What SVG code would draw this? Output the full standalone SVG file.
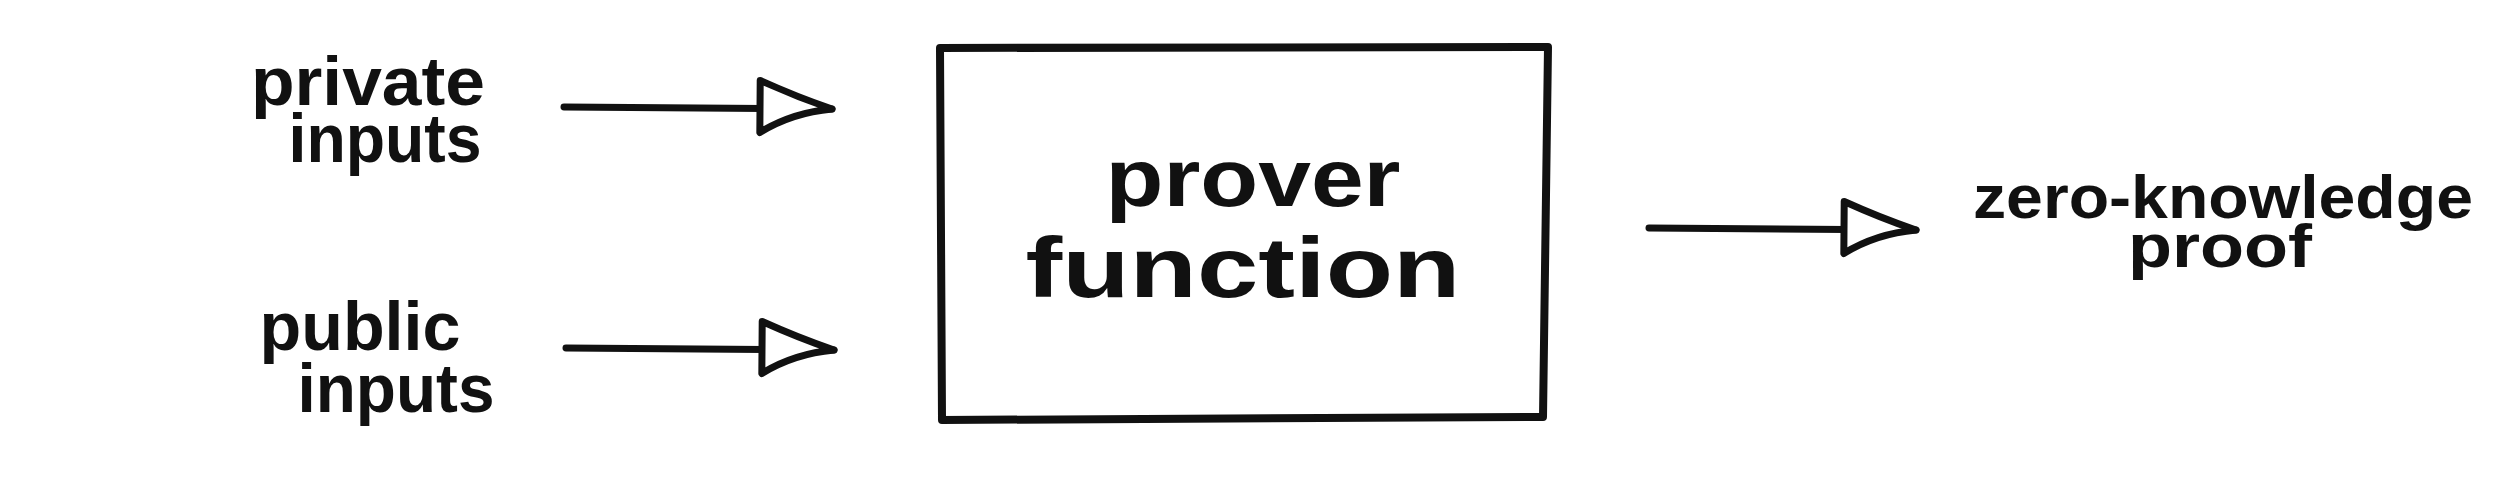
<svg xmlns="http://www.w3.org/2000/svg" width="2516" height="479" viewBox="0 0 2516 479">
<style>
.lbl{font-family:"Liberation Sans","DejaVu Sans",sans-serif;font-weight:bold;fill:#111;text-anchor:middle}
.edge{fill:none;stroke:#111;stroke-width:7;stroke-linecap:round}
.box{fill:#fff;stroke:#111;stroke-width:8;stroke-linejoin:round}
</style>
<defs>
<marker id="head" markerUnits="userSpaceOnUse" viewBox="-80 -34 86 68" markerWidth="86" markerHeight="68" refX="0" refY="0" orient="auto" overflow="visible">
<path d="M-72,-28 Q-36,-12 0,0 Q-40,4 -72,24 Z" fill="#fff" stroke="#111" stroke-width="7" stroke-linejoin="round"/>
</marker>
</defs>
<rect width="2516" height="479" fill="#fff"/>
<g id="connectors">
<path class="edge" d="M564,107 L832,109" marker-end="url(#head)"/>
<path class="edge" d="M566,348 L834,350" marker-end="url(#head)"/>
<path class="edge" d="M1649,228 L1916,230" marker-end="url(#head)"/>
</g>
<g id="private-inputs">
<text class="lbl" x="368" y="105" font-size="68" textLength="234" lengthAdjust="spacingAndGlyphs">private</text>
<text class="lbl" x="385" y="162" font-size="68" textLength="193" lengthAdjust="spacingAndGlyphs">inputs</text>
</g>
<g id="public-inputs">
<text class="lbl" x="360" y="350" font-size="68" textLength="201" lengthAdjust="spacingAndGlyphs">public</text>
<text class="lbl" x="396" y="412" font-size="68" textLength="197" lengthAdjust="spacingAndGlyphs">inputs</text>
</g>
<g id="prover-function">
<path class="box" d="M940,48 L1548,47 L1543,417 L942,420 Z"/>
<text class="lbl" x="1253" y="206" font-size="82" textLength="295" lengthAdjust="spacingAndGlyphs">prover</text>
<text class="lbl" x="1243" y="297" font-size="86" textLength="435" lengthAdjust="spacingAndGlyphs">function</text>
</g>
<g id="zk-proof">
<text class="lbl" x="2223" y="218" font-size="62" textLength="500" lengthAdjust="spacingAndGlyphs">zero-knowledge</text>
<text class="lbl" x="2220" y="267" font-size="62" textLength="184" lengthAdjust="spacingAndGlyphs">proof</text>
</g>
</svg>
